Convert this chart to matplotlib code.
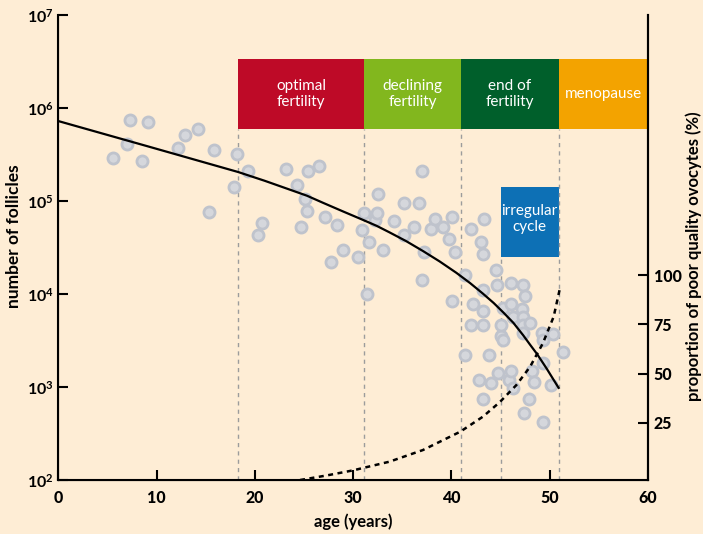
import matplotlib
matplotlib.use("Agg")
from matplotlib import pyplot as plt

plt.rcParams['font.family'] = ['Lato', 'DejaVu Sans']
plt.rcParams['mathtext.fontset'] = 'custom'
plt.rcParams['mathtext.rm'] = 'Lato'
plt.rcParams['mathtext.bf'] = 'Lato:bold'
plt.rcParams['mathtext.default'] = 'bf'

# observed follicle counts (age in years, number of follicles)
obs_age = [5.60, 7.02, 7.29, 8.55, 9.16, 12.21, 12.89, 14.24, 15.36, 15.84,
           17.87, 18.15, 19.27, 20.28, 20.69, 23.16, 24.31, 24.69, 25.10, 25.33,
           25.43, 26.55, 27.16, 27.74, 28.38, 28.99, 30.52, 30.93, 31.13, 31.37,
           31.61, 32.19, 32.39, 32.55, 33.06, 34.15, 35.17, 35.20, 36.15, 36.66,
           37.03, 37.03, 37.23, 37.88, 38.29, 39.10, 39.72, 40.08, 40.08, 40.36,
           41.37, 41.37, 41.98, 41.98, 42.22, 42.83, 43.00, 43.23, 43.23, 43.23,
           43.23, 43.23, 43.34, 43.85, 43.99, 44.50, 44.60, 44.70, 45.00, 45.04,
           45.21, 45.27, 45.85, 46.05, 46.05, 46.05, 46.29, 46.29, 47.14, 47.24,
           47.30, 47.30, 47.30, 47.37, 47.51, 47.91, 47.99, 48.16, 48.39, 49.18,
           49.28, 49.28, 49.28, 50.09, 50.29, 51.31]
obs_follicles = [2.9e5, 4.1e5, 7.4e5, 2.7e5, 7.1e5, 3.7e5, 5.1e5, 5.9e5, 7.7e4, 3.5e5,
                 1.4e5, 3.2e5, 2.1e5, 4.3e4, 5.8e4, 2.2e5, 1.5e5, 5.3e4, 1.04e5, 7.9e4,
                 2.1e5, 2.4e5, 6.8e4, 2.2e4, 5.5e4, 3.0e4, 2.5e4, 4.9e4, 7.5e4, 1.0e4,
                 3.6e4, 6.3e4, 7.5e4, 1.2e5, 3.0e4, 6.1e4, 4.3e4, 9.6e4, 5.3e4, 9.6e4,
                 2.1e5, 1.4e4, 2.8e4, 5.0e4, 6.4e4, 5.2e4, 3.9e4, 6.7e4, 8.4e3, 2.8e4,
                 1.6e4, 2.2e3, 5.0e4, 4.6e3, 7.9e3, 1.2e3, 3.6e4, 2.7e4, 1.1e4, 6.6e3,
                 4.6e3, 7.4e2, 6.4e4, 2.2e3, 1.1e3, 1.8e4, 1.24e4, 1.4e3, 3.5e3, 4.6e3,
                 3.2e3, 7.0e3, 1.2e3, 1.3e4, 7.9e3, 1.5e3, 5.7e3, 9.8e2, 6.9e3, 5.7e3,
                 1.24e4, 4.6e3, 3.8e3, 5.3e2, 9.6e3, 7.5e2, 4.9e3, 1.5e3, 1.14e3, 3.8e3,
                 3.2e3, 1.8e3, 4.2e2, 1.05e3, 3.7e3, 2.4e3]

# model curve of follicle decline
model_age = [0, 9.0, 18.3, 21.0, 23.6, 25.3, 27.0, 29.0, 31.1, 32.4, 33.7, 35.4, 37.1,
             38.8, 40.5, 41.9, 43.2, 44.3, 45.3, 46.3, 47.3, 48.0, 48.7, 49.2,
             49.7, 50.3, 50.9]
model_follicles = [7.24e5, 3.9e5, 2.05e5, 1.65e5, 1.32e5, 1.14e5, 9.5e4, 7.7e4,
                   6.2e4, 5.4e4, 4.6e4, 3.7e4, 2.9e4, 2.24e4, 1.69e4, 1.31e4,
                   1.01e4, 8.0e3, 6.3e3, 4.9e3, 3.6e3, 2.85e3, 2.27e3, 1.89e3,
                   1.57e3, 1.24e3, 9.8e2]

# proportion of poor quality ovocytes (%)
poor_age = [24.6, 27.3, 30.0, 33.7, 37.1, 40.9, 43.2, 44.9, 46.6, 48.0, 49.3, 50.4, 51.0]
poor_pct = [-3.9, -1.6, 1.0, 5.4, 11.3, 20.6, 28.2, 35.5, 44.2, 53.5, 65.4, 78.9, 92.4]

# life stages
stage_names = ['optimal\nfertility', 'declining\nfertility', 'end of\nfertility', 'menopause']
stage_edges = [18.3, 31.1, 41.0, 50.9, 60]
stage_colors = ['#BE0A27', '#82B71E', '#005F2B', '#F3A300']
irregular = (45.0, 50.9)

bg = '#FEEDD5'
fig = plt.figure(figsize=(7.03, 5.34), dpi=100, facecolor=bg)
ax = fig.add_axes([0.0829, 0.1011, 0.8389, 0.8708])
ax.set_facecolor(bg)
ax.set_yscale('log')
ax.set_xlim(0, 60)
ax.set_ylim(1e2, 1e7)

band_lo, band_hi = 0.755, 0.905
for i, name in enumerate(stage_names):
    x0, x1 = stage_edges[i], stage_edges[i + 1]
    ax.axvspan(x0, x1, ymin=band_lo, ymax=band_hi, color=stage_colors[i], lw=0, zorder=1)
    ax.text((x0 + x1) / 2, (band_lo + band_hi) / 2, name, transform=ax.get_xaxis_transform(),
            ha='center', va='center', color='white', fontsize=11, linespacing=1.2, zorder=5)

irr_lo, irr_hi = 0.4796, 0.630
ax.axvspan(irregular[0], irregular[1], ymin=irr_lo, ymax=irr_hi, color='#0D70B5', lw=0, zorder=1)
ax.text(sum(irregular) / 2, 0.562, 'irregular\ncycle', transform=ax.get_xaxis_transform(),
        ha='center', va='center', color='white', fontsize=11, linespacing=1.2, zorder=5)

for x in stage_edges[:-1]:
    ax.axvline(x, ymin=0, ymax=band_lo, color='#9C9C9C', lw=1, ls=(0, (3, 3)), zorder=1)
ax.axvline(irregular[0], ymin=0, ymax=irr_lo, color='#9C9C9C', lw=1, ls=(0, (3, 3)), zorder=1)

ax.scatter(obs_age, obs_follicles, s=64, facecolor='#D5D7DC', edgecolor='#BFC3CC',
           linewidth=2, zorder=2)
ax.plot(model_age, model_follicles, color='black', lw=1.6, zorder=3,
        solid_joinstyle='round')

ax.set_yticks([1e2, 1e3, 1e4, 1e5, 1e6, 1e7])
ax.set_yticklabels([r'$\mathbf{10^{%d}}$' % p for p in range(2, 8)])
ax.minorticks_off()
ax.set_xticks([0, 10, 20, 30, 40, 50, 60])
ax.tick_params(axis='both', direction='in', length=7, width=1.5, labelsize=11.5)
ax.tick_params(axis='x', pad=7)
for lab in ax.get_xticklabels():
    lab.set_fontweight('black')

ax.spines['top'].set_visible(False)
for s in ['left', 'bottom', 'right']:
    ax.spines[s].set_linewidth(1.5)

ax.set_xlabel('age (years)', fontsize=12, fontweight='bold')
ax.xaxis.set_label_coords(0.5, -0.072)
ax.set_ylabel('number of follicles', fontsize=12.5, fontweight='bold')
ax.yaxis.set_label_coords(-0.062, 0.525)

ax2 = ax.twinx()
ax2.set_ylim(-3.9, 231.8)
ax2.plot(poor_age, poor_pct, color='black', lw=1.8, ls=(0, (2, 1.8)), zorder=3)
ax2.set_yticks([25, 50, 75, 100])
ax2.tick_params(axis='y', direction='in', length=7, width=1.5, labelsize=11.5, pad=4)
for lab in ax2.get_yticklabels():
    lab.set_fontweight('black')
ax2.spines['top'].set_visible(False)
ax2.spines['right'].set_linewidth(1.5)
ax2.set_ylabel('proportion of poor quality ovocytes (%)', fontsize=12, fontweight='bold')
ax2.yaxis.set_label_coords(1.064, 0.482)

fig.savefig('out.png', dpi=100, facecolor=bg)
